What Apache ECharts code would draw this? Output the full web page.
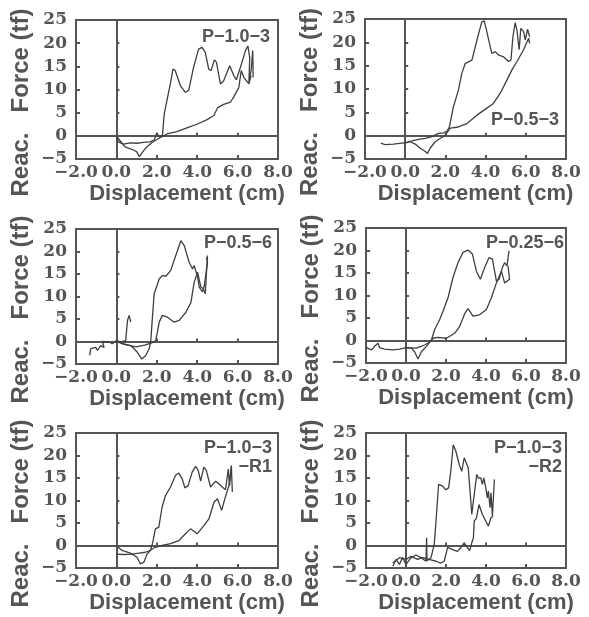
<!DOCTYPE html>
<html>
<head>
<meta charset="utf-8">
<script src="https://cdn.jsdelivr.net/npm/echarts@6/dist/echarts.min.js"></script>
<style>
  html, body { margin: 0; padding: 0; background: #fff; }
  #main { width: 589px; height: 617px; }
</style>
</head>
<body>
<div id="main"></div>
<script>
// specimen labels (one entry per text line)
var labels = [['P−1.0−3'], ['P−0.5−3'], ['P−0.5−6'], ['P−0.25−6'], ['P−1.0−3', '−R1'], ['P−1.0−3', '−R2']];

// [displacement (cm), reaction force (tf)]
var p1Load = [[0,0],[0.1,-1.3],[0.35,-1.8],[0.68,-1.5],[1.0,-1.6],[1.34,-1.4],[1.67,-1.3],[1.87,-0.9],[2.0,0.6],[2.13,-0.3],[2.28,0.1],[2.37,4.8],[2.5,7.6],[2.67,11.2],[2.8,14.4],[2.91,14.1],[3.16,10.9],[3.41,9.4],[3.58,9.8],[3.82,14.8],[4.07,18.7],[4.24,19.1],[4.4,18],[4.57,14.4],[4.69,14.1],[4.85,16.4],[4.95,15.9],[5.15,11.2],[5.31,11.9],[5.61,15.1],[5.81,13],[5.94,12.1],[6.14,14.8],[6.39,18.4],[6.51,19.4],[6.6,16.9],[6.56,11.6],[6.67,14.1],[6.75,18.4],[6.77,12.6]];
var p1Unload = [[0,0],[0.15,-0.9],[0.43,-2.4],[0.76,-2.9],[1.0,-3.4],[1.14,-4.5],[1.31,-3.4],[1.5,-2.4],[1.75,-1.5],[2.0,-0.8],[2.25,-0.2],[2.5,0.4],[3.0,0.9],[3.49,1.7],[3.99,2.5],[4.49,3.5],[4.82,4.4],[5.02,6.1],[5.31,6.8],[5.65,7.3],[5.81,8.4],[6.06,10.4],[6.18,14.1],[6.31,12.6],[6.56,11.2],[6.67,13.0]];

var p2Load = [[-1.21,-1.6],[-1.0,-1.9],[-0.58,-1.8],[-0.17,-1.6],[0.08,-1.5],[0.33,-1.1],[0.66,-0.8],[1.0,-0.6],[1.33,-0.2],[1.66,0.5],[1.91,0.6],[2.07,0.9],[2.2,1.9],[2.4,6.2],[2.65,9.8],[2.82,13.4],[2.99,15.5],[3.32,16.2],[3.57,20.5],[3.81,24.4],[3.93,24.6],[4.06,22.3],[4.23,19.1],[4.31,17.6],[4.48,18],[4.64,17.3],[4.89,16.9],[5.14,15.9],[5.26,16.2],[5.36,21.2],[5.47,24.2],[5.56,22.6],[5.67,18.4],[5.75,23],[5.89,22.3],[5.97,20.5],[6.09,22.8],[6.19,21.2]];
var p2Unload = [[0,-1.5],[0.25,-1.3],[0.5,-1.8],[0.75,-2.7],[1.0,-3.4],[1.11,-3.8],[1.24,-2.7],[1.49,-1.3],[1.74,-0.6],[1.99,0.1],[2.24,1.6],[2.57,1.8],[3.07,2.6],[3.57,4.4],[4.06,5.9],[4.39,6.9],[4.73,9.1],[5.06,11.9],[5.31,14.1],[5.56,15.9],[5.89,18.4],[6.14,20.9],[6.19,19.8]];

var p3Start = [[-1.32,-3.1],[-1.27,-1.6],[-1.02,-1.3],[-0.94,-2.0],[-0.78,-0.9],[-0.61,-1.3],[-0.69,0],[-0.36,-0.1],[-0.2,-0.5],[0,0.2],[0.21,-0.1],[0.46,0.2],[0.55,4.7],[0.63,5.8],[0.71,4.3]];
var p3Load = [[0,0],[0.3,-0.5],[0.71,-0.9],[1.04,-2.4],[1.26,-3.9],[1.45,-3.1],[1.62,-1.6],[1.7,0],[1.79,5.8],[1.87,10.6],[2.12,13.9],[2.28,14.7],[2.45,14.5],[2.69,15.8],[2.94,19.1],[3.19,22.4],[3.36,21.3],[3.6,17.6],[3.77,16.1],[3.85,16.9],[4.02,14.3],[4.1,12.1],[4.26,11],[4.35,12.4],[4.51,17.6],[4.46,18.7]];
var p3Unload = [[0,0],[0.46,-0.7],[0.96,-1.2],[1.4,-0.8],[1.75,-0.3],[1.95,0.2],[2.12,4.3],[2.28,5.8],[2.53,5.4],[2.86,4.3],[3.11,4.7],[3.44,6.5],[3.69,8.7],[3.85,13.2],[4.02,15.4],[4.18,12.1],[4.3,11.7],[4.4,10.6],[4.46,15.4],[4.51,19.1]];

var p4Load = [[-2.48,-3.6],[-2.4,-2.5],[-2.23,-1.9],[-1.98,-1.6],[-1.73,-2.1],[-1.57,-1.3],[-1.4,-0.6],[-1.32,-1.6],[-1.07,-1.9],[-0.65,-2.1],[-0.32,-1.9],[0,-1.6],[0.27,-1.7],[0.43,-2.5],[0.6,-4.1],[0.77,-2.5],[1.02,-1.3],[1.27,0.1],[1.43,2.4],[1.68,4.6],[1.85,6.5],[2.1,9.5],[2.35,14],[2.6,17.3],[2.85,19.6],[3.1,20.1],[3.32,19.2],[3.52,15.4],[3.72,13.6],[3.93,16.2],[4.15,18.4],[4.32,18.1],[4.52,13.2],[4.65,13.6],[4.82,16.2],[4.93,17.3],[5.05,16.6],[5.15,19.9]];
var p4Unload = [[0,-1.6],[0.52,-1.7],[0.93,-1.0],[1.18,-0.4],[1.35,0.5],[1.6,0.7],[2.02,0.5],[2.43,1.6],[2.68,3.1],[2.93,5.9],[3.1,7.1],[3.35,5.4],[3.68,5.7],[4.02,6.9],[4.27,9.5],[4.52,12.8],[4.77,15.4],[4.93,12.8],[5.18,13.6],[5.1,16.6]];

var p5Load = [[0,-1.9],[0.36,-2.0],[0.78,-1.9],[1.11,-1.7],[1.44,-1.5],[1.69,-1.1],[1.8,0.7],[1.93,3.7],[2.1,4.1],[2.26,8.5],[2.43,11.1],[2.68,13],[2.93,15.6],[3.09,16.1],[3.26,14.8],[3.39,12.8],[3.55,13.3],[3.75,16.3],[3.92,17.6],[4.05,16.7],[4.17,14.3],[4.33,17.4],[4.45,16.7],[4.66,13],[4.91,14.3],[5.07,13.7],[5.24,13],[5.4,12.4],[5.54,17],[5.6,13.3],[5.69,17.8],[5.74,11.9]];
var p5Unload = [[0,0],[0.28,-1.1],[0.69,-1.7],[1.02,-2.6],[1.19,-4.1],[1.36,-3.7],[1.52,-1.9],[1.69,-1.0],[1.93,-0.4],[2.26,0],[2.68,0.4],[3.09,1.1],[3.42,2.6],[3.67,3.7],[4.0,2.6],[4.33,4.4],[4.58,5.9],[4.83,9.6],[5.0,10.4],[5.21,7.8],[5.37,10.4],[5.57,13.3],[5.7,17.4]];

var p6Load = [[-0.66,-4.6],[-0.5,-3.1],[-0.33,-4.2],[-0.17,-2.7],[0,-4.2],[0.25,-2.7],[0.5,-2.1],[0.75,-2.7],[1.0,-3.5],[1.03,1.7],[1.05,-3.4],[1.25,-2.7],[1.41,0.2],[1.5,5.4],[1.63,13.6],[1.83,13.2],[1.99,12.4],[2.13,12.8],[2.24,16.5],[2.36,22.4],[2.49,21],[2.66,18],[2.79,16.5],[2.91,19.5],[2.99,19.9],[3.11,17.3],[3.24,9.9],[3.29,6.9],[3.37,9.9],[3.54,15.8],[3.62,15],[3.74,15],[3.82,13.6],[3.89,15],[3.99,12.8],[4.07,10.6],[4.12,12.1],[4.2,8.4],[4.25,11.7],[4.32,6.5],[4.4,6.5],[4.42,14.7]];
var p6Unload = [[-0.66,-3.9],[-0.33,-2.7],[0,-3.1],[0.25,-2.4],[0.58,-3.1],[0.83,-2.7],[1.16,-3.1],[1.5,-3.5],[1.74,-3.9],[1.91,-3.5],[1.99,-3.9],[2.08,-0.4],[2.33,-0.9],[2.57,-1.3],[2.74,-0.5],[2.91,0.6],[3.07,-0.5],[3.19,-1.1],[3.29,0.6],[3.37,1.7],[3.41,5.4],[3.52,6.1],[3.65,9.1],[3.82,6.9],[3.99,5.4],[4.12,4.3],[4.24,6.1],[4.35,6.5]];

var curves = [
    [p1Load, p1Unload],
    [p2Load, p2Unload],
    [p3Start, p3Load, p3Unload],
    [p4Load, p4Unload],
    [p5Load, p5Unload],
    [p6Load, p6Unload]
];

var chart = echarts.init(document.getElementById('main'), null, {renderer: 'canvas'});

var ink = '#3f3f3f';
var txt = '#555';
var grids = [
    {left: 76, top: 20, width: 202, height: 139},
    {left: 365, top: 19, width: 201, height: 140},
    {left: 76, top: 229, width: 202, height: 135},
    {left: 366, top: 228, width: 200, height: 135},
    {left: 76, top: 433, width: 202, height: 135},
    {left: 366, top: 433, width: 200, height: 135}
];
var labelPos = [
    {right: 319, top: 28},
    {right: 30, top: 111},
    {right: 317, top: 234},
    {right: 25, top: 234},
    {right: 317, top: 439},
    {right: 27, top: 439}
];

function minus(v, d) {
    return (v < 0 ? '−' : '') + Math.abs(v).toFixed(d);
}

var xAxes = [], yAxes = [], series = [], graphics = [];
grids.forEach(function (g, i) {
    g.show = true;
    g.borderColor = '#555';
    g.borderWidth = 2;
    g.backgroundColor = 'transparent';
    // frame axis with labels
    xAxes.push({
        gridIndex: i, type: 'value', min: -2, max: 8, interval: 2, position: 'bottom',
        axisLine: {show: false, onZero: false},
        axisTick: {show: true, inside: true, length: 4, lineStyle: {color: '#555', width: 2}},
        axisLabel: {
            margin: 5, color: txt, fontFamily: 'DejaVu Serif', fontWeight: 'bold', fontSize: 17,
            formatter: function (v) { return minus(v, 1); }
        },
        splitLine: {show: false},
        name: 'Displacement (cm)', nameLocation: 'middle', nameGap: 24,
        nameTextStyle: {color: txt, fontFamily: 'Liberation Sans', fontWeight: 'bold', fontSize: 22, padding: [0, 0, 0, 20]}
    });
    // zero line
    xAxes.push({
        gridIndex: i, type: 'value', min: -2, max: 8, interval: 2, position: 'top',
        axisLine: {show: true, onZero: true, lineStyle: {color: '#555', width: 2}},
        axisTick: {show: true, length: 3, lineStyle: {color: '#555', width: 2}},
        axisLabel: {show: false},
        splitLine: {show: false}
    });
    yAxes.push({
        gridIndex: i, type: 'value', min: -5, max: 25, interval: 5, position: 'left',
        axisLine: {show: false, onZero: false},
        axisTick: {show: true, inside: true, length: 4, lineStyle: {color: '#555', width: 2}},
        axisLabel: {
            margin: 9, color: txt, fontFamily: 'DejaVu Serif', fontWeight: 'bold', fontSize: 17,
            formatter: function (v) { return minus(v, 0); }
        },
        splitLine: {show: false},
        name: 'Reac.   Force (tf)', nameLocation: 'middle', nameGap: 43,
        nameTextStyle: {color: txt, fontFamily: 'Liberation Sans', fontWeight: 'bold', fontSize: 24, padding: [0, 26, 0, 0]}
    });
    yAxes.push({
        gridIndex: i, type: 'value', min: -5, max: 25, interval: 5, position: 'right',
        axisLine: {show: true, onZero: true, lineStyle: {color: '#555', width: 2}},
        axisTick: {show: true, length: 3, lineStyle: {color: '#555', width: 2}},
        axisLabel: {show: false},
        splitLine: {show: false}
    });
    curves[i].forEach(function (c) {
        series.push({
            type: 'line', xAxisIndex: i * 2, yAxisIndex: i * 2, data: c,
            showSymbol: false, clip: false, silent: true,
            lineStyle: {color: ink, width: 1.3}
        });
    });
    labels[i].forEach(function (line, k) {
        graphics.push({
            type: 'text', right: labelPos[i].right, top: labelPos[i].top + k * 19,
            style: {text: line, fill: txt, font: 'bold 18px "Liberation Sans"'}
        });
    });
});

chart.setOption({
    backgroundColor: '#fff',
    animation: false,
    grid: grids,
    xAxis: xAxes,
    yAxis: yAxes,
    series: series,
    graphic: graphics
});
</script>
</body>
</html>
